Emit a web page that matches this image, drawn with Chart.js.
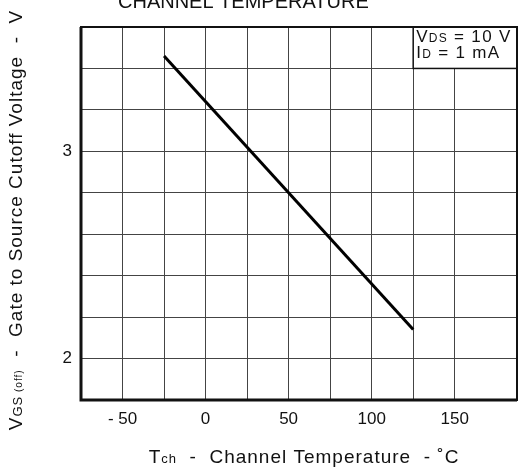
<!DOCTYPE html>
<html>
<head>
<meta charset="utf-8">
<script src="https://cdn.jsdelivr.net/npm/chart.js@4.4.1/dist/chart.umd.min.js"></script>
<style>
  html, body { margin: 0; padding: 0; background: #fff; }
  #wrap { width: 531px; height: 470px; }
</style>
</head>
<body>
<div id="wrap"><canvas id="chart" width="531" height="470"></canvas></div>
<script>
// Data
const temps = [-25, 125];          // Tch (°C)
const vgsOff = [3.46, 2.14];       // VGS(off) (V)
const xTickLabels = { "-50": "- 50", "0": "0", "50": "50", "100": "100", "150": "150" };
const yTickLabels = { "2": "2", "3": "3" };

const FONT = "'Liberation Sans', Arial, Helvetica, sans-serif";

// text made of runs with different sizes (for the subscripts)
function runsWidth(ctx, runs) {
  let w = 0;
  runs.forEach(r => { ctx.font = r.size + "px " + FONT; w += ctx.measureText(r.t).width; });
  return w;
}
function drawRuns(ctx, runs, x, y) {
  runs.forEach(r => {
    ctx.font = r.size + "px " + FONT;
    ctx.fillText(r.t, x, y + (r.dy || 0));
    x += ctx.measureText(r.t).width;
  });
}

const extras = {
  id: "extras",
  afterDraw(chart) {
    const ctx = chart.ctx;
    const a = chart.chartArea;
    const xs = chart.scales.x, ys = chart.scales.y;
    ctx.save();
    ctx.textBaseline = "alphabetic";
    ctx.textAlign = "left";

    // condition box, top right
    const bx = xs.getPixelForValue(125), by = ys.getPixelForValue(3.4);
    ctx.fillStyle = "#fff";
    ctx.fillRect(bx, a.top, a.right - bx, by - a.top);
    ctx.strokeStyle = "#111";
    ctx.lineWidth = 1.5;
    ctx.strokeRect(bx, a.top, a.right - bx, by - a.top);
    ctx.fillStyle = "#111";
    ctx.letterSpacing = "1.3px";
    drawRuns(ctx, [{ t: "V", size: 17 }, { t: "DS", size: 12 }, { t: " = 10 V", size: 17 }], bx + 3, a.top + 15);
    drawRuns(ctx, [{ t: "I", size: 17 }, { t: "D", size: 12 }, { t: " = 1 mA", size: 17 }], bx + 3, a.top + 31);

    // plot frame (left and bottom a bit heavier)
    ctx.lineWidth = 2;
    ctx.strokeRect(a.left, a.top, a.right - a.left, a.bottom - a.top);
    ctx.lineWidth = 3;
    ctx.beginPath();
    ctx.moveTo(a.left, a.top);
    ctx.lineTo(a.left, a.bottom);
    ctx.lineTo(a.right, a.bottom);
    ctx.stroke();

    // title, cut off at the top
    ctx.letterSpacing = "0px";
    ctx.font = "20px " + FONT;
    ctx.fillText("CHANNEL TEMPERATURE", 118, 8);

    // x title
    ctx.letterSpacing = "1px";
    const xr = [{ t: "T", size: 19 }, { t: "ch", size: 13 }, { t: "  -  Channel Temperature  - ˚C", size: 19 }];
    drawRuns(ctx, xr, 304 - runsWidth(ctx, xr) / 2, 463);

    // y title
    const yr = [{ t: "V", size: 19 }, { t: "GS", size: 13 }, { t: " (off)", size: 10 }, { t: "  -  Gate to Source Cutoff Voltage  -  V", size: 19 }];
    ctx.translate(22, 220);
    ctx.rotate(-Math.PI / 2);
    drawRuns(ctx, yr, -runsWidth(ctx, yr) / 2, 0);
    ctx.restore();
  }
};

new Chart(document.getElementById("chart"), {
  type: "scatter",
  data: {
    datasets: [{
      data: temps.map((t, i) => ({ x: t, y: vgsOff[i] })),
      showLine: true,
      borderColor: "#000",
      borderWidth: 3,
      pointRadius: 0,
      fill: false
    }]
  },
  options: {
    responsive: false,
    animation: false,
    devicePixelRatio: 1,
    layout: { padding: { top: 27, right: 14, left: 0, bottom: 0 } },
    plugins: { legend: { display: false }, tooltip: { enabled: false } },
    scales: {
      x: {
        type: "linear",
        min: -75,
        max: 187.5,
        afterFit: s => { s.height = 70; },
        border: { display: false },
        grid: { color: "#444", lineWidth: 1, drawTicks: false },
        ticks: {
          stepSize: 25,
          padding: 9,
          autoSkip: false,
          maxRotation: 0,
          color: "#111",
          font: { family: FONT, size: 17 },
          callback: v => {
            const k = String(Math.round(v));
            return Math.abs(v - Math.round(v)) < 1e-6 && xTickLabels[k] ? xTickLabels[k] : "";
          }
        }
      },
      y: {
        type: "linear",
        min: 1.8,
        max: 3.6,
        afterFit: s => { s.width = 81; },
        border: { display: false },
        grid: { color: "#444", lineWidth: 1, drawTicks: false },
        ticks: {
          stepSize: 0.2,
          padding: 9,
          autoSkip: false,
          color: "#111",
          font: { family: FONT, size: 17 },
          callback: v => {
            const k = String(Math.round(v));
            return Math.abs(v - Math.round(v)) < 1e-6 && yTickLabels[k] ? yTickLabels[k] : "";
          }
        }
      }
    }
  },
  plugins: [extras]
});
</script>
</body>
</html>
